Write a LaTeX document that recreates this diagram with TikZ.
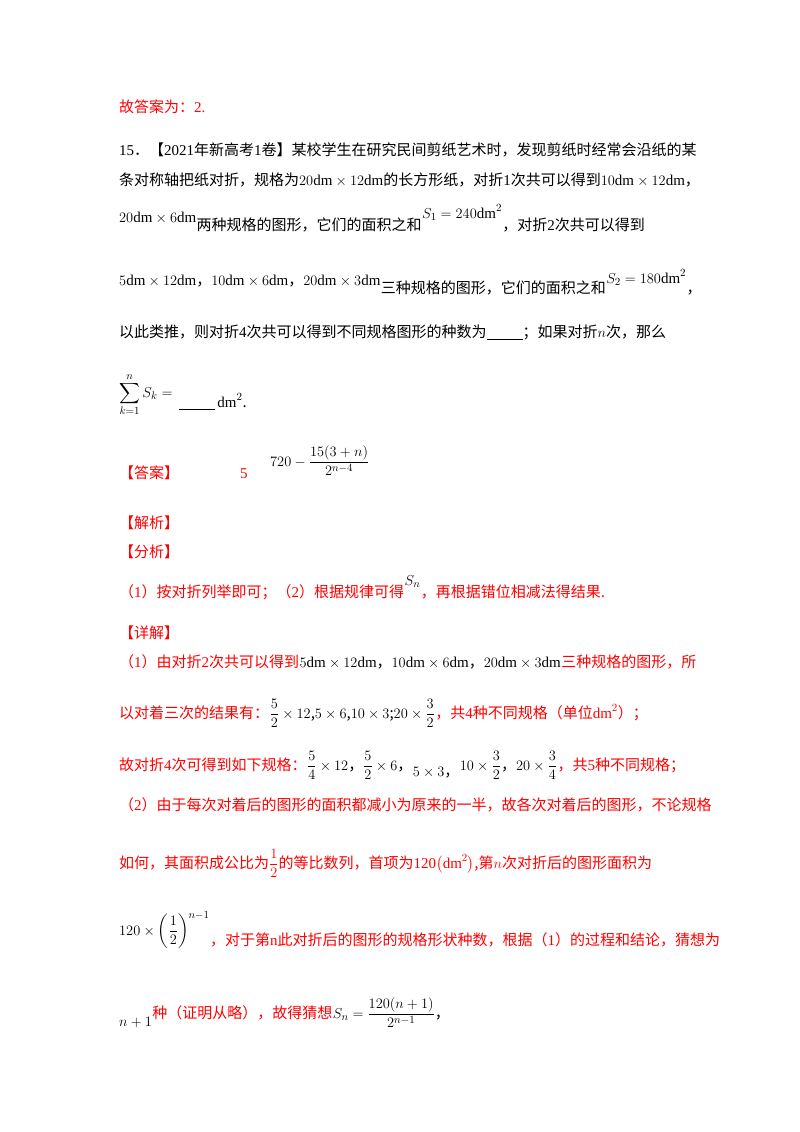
\documentclass[tikz,border=0pt]{standalone}
\usepackage{amsmath}
\usepackage{fontspec}
\setmainfont{Noto Sans CJK SC}
\newfontfamily\tms{Liberation Serif}
\newcommand{\tm}[1]{{\tms #1}}
\newcommand{\dm}{\text{\tms dm}}
\begin{document}
\begin{tikzpicture}[x=1pt,y=-1pt,
  txt/.style={anchor=base west,inner sep=0pt,font=\fontsize{15}{18}\selectfont},
  rtxt/.style={txt,text=red}]
\useasboundingbox (0,0) rectangle (800,1132);
\node[rtxt] (l0) at (119,112) {故答案为：\tm{2.}};
\node[txt] (l1) at (119,155) {\tm{15}．【\tm{2021}年新高考\tm{1}卷】某校学生在研究民间剪纸艺术时，发现剪纸时经常会沿纸的某};
\node[txt] (l2) at (119,185) {条对称轴把纸对折，规格为$20\dm\times12\dm$的长方形纸，对折\tm{1}次共可以得到$10\dm\times12\dm$，};
\node[txt] (l3a) at (119,222) {$20\dm\times6\dm$};
\node[txt,anchor=base west] (l3b) at ([yshift=-8pt]l3a.base east) {两种规格的图形，它们的面积之和};
\node[txt] (l3c) at ([yshift=12pt]l3b.base east) {$S_1=240\dm^2$};
\node[txt] (l3d) at ([yshift=-12pt]l3c.base east) {，对折\tm{2}次共可以得到};
\node[txt] (l4a) at (119,285) {$5\dm\times12\dm$，$10\dm\times6\dm$，$20\dm\times3\dm$};
\node[txt] (l4b) at ([yshift=-8pt]l4a.base east) {三种规格的图形，它们的面积之和};
\node[txt] (l4c) at ([yshift=10pt]l4b.base east) {$S_2=180\dm^2$};
\node[txt] (l4d) at ([yshift=-10pt]l4c.base east) {，};
\node[txt] (l5) at (119,337) {以此类推，则对折\tm{4}次共可以得到不同规格图形的种数为\underline{\hspace{36pt}}；如果对折$n$次，那么};
\node[txt] (l6a) at (119,397) {$\displaystyle\sum_{k=1}^{n}S_k=$};
\node[txt] (l6b) at ([xshift=6pt,yshift=-10pt]l6a.base east) {\underline{\hspace{36pt}}$\,\dm^2$.};
\node[rtxt] (l7a) at (119,478) {【答案】};
\node[rtxt] (l7b) at (240,478) {\tm{5}};
\node[txt] (l7c) at (270,466) {$720-\dfrac{15(3+n)}{2^{n-4}}$};
\node[rtxt] (l8) at (119,528) {【解析】};
\node[rtxt] (l9) at (119,557) {【分析】};
\node[rtxt] (l10a) at (119,597) {（\tm{1}）按对折列举即可；（\tm{2}）根据规律可得};
\node[txt] (l10b) at ([yshift=12pt]l10a.base east) {$S_n$};
\node[rtxt] (l10c) at ([yshift=-12pt]l10b.base east) {，再根据错位相减法得结果.};
\node[rtxt] (l11) at (119,638) {【详解】};
\node[rtxt] (l12a) at (119,667) {（\tm{1}）由对折\tm{2}次共可以得到};
\node[txt] (l12b) at (l12a.base east) {$5\dm\times12\dm$，$10\dm\times6\dm$，$20\dm\times3\dm$};
\node[rtxt] (l12c) at (l12b.base east) {三种规格的图形，所};
\node[rtxt] (l13a) at (119,718) {以对着三次的结果有：};
\node[txt] (l13b) at (l13a.base east) {$\dfrac52\times12$,$5\times6$,$10\times3$;$20\times\dfrac32$};
\node[rtxt] (l13c) at (l13b.base east) {，共\tm{4}种不同规格（单位$\dm^2$）；};
\node[rtxt] (l14a) at (119,770) {故对折\tm{4}次可得到如下规格：};
\node[txt] (l14b) at (l14a.base east) {$\dfrac54\times12$，$\dfrac52\times6$，};
\node[txt] (l14c) at ([yshift=-6pt]l14b.base east) {$5\times3$，};
\node[txt] (l14d) at ([yshift=6pt]l14c.base east) {$10\times\dfrac32$，$20\times\dfrac34$};
\node[rtxt] (l14e) at (l14d.base east) {，共\tm{5}种不同规格；};
\node[rtxt] (l15) at (119,810) {（\tm{2}）由于每次对着后的图形的面积都减小为原来的一半，故各次对着后的图形，不论规格};
\node[rtxt] (l16) at (119,868) {如何，其面积成公比为$\dfrac12$的等比数列，首项为\tm{120}$\big(\dm^2\big)$,第$n$次对折后的图形面积为};
\node[txt] (l17a) at (119,935) {$120\times\left(\dfrac12\right)^{n-1}$};
\node[rtxt] (l17b) at ([yshift=-10pt]l17a.base east) {，对于第\tm{n}此对折后的图形的规格形状种数，根据（\tm{1}）的过程和结论，猜想为};
\node[txt] (l18a) at (119,1026) {$n+1$};
\node[rtxt] (l18b) at ([yshift=8pt]l18a.base east) {种（证明从略），故得猜想};
\node[txt] (l18c) at (l18b.base east) {$S_n=\dfrac{120(n+1)}{2^{n-1}}$，};
\end{tikzpicture}
\end{document}
